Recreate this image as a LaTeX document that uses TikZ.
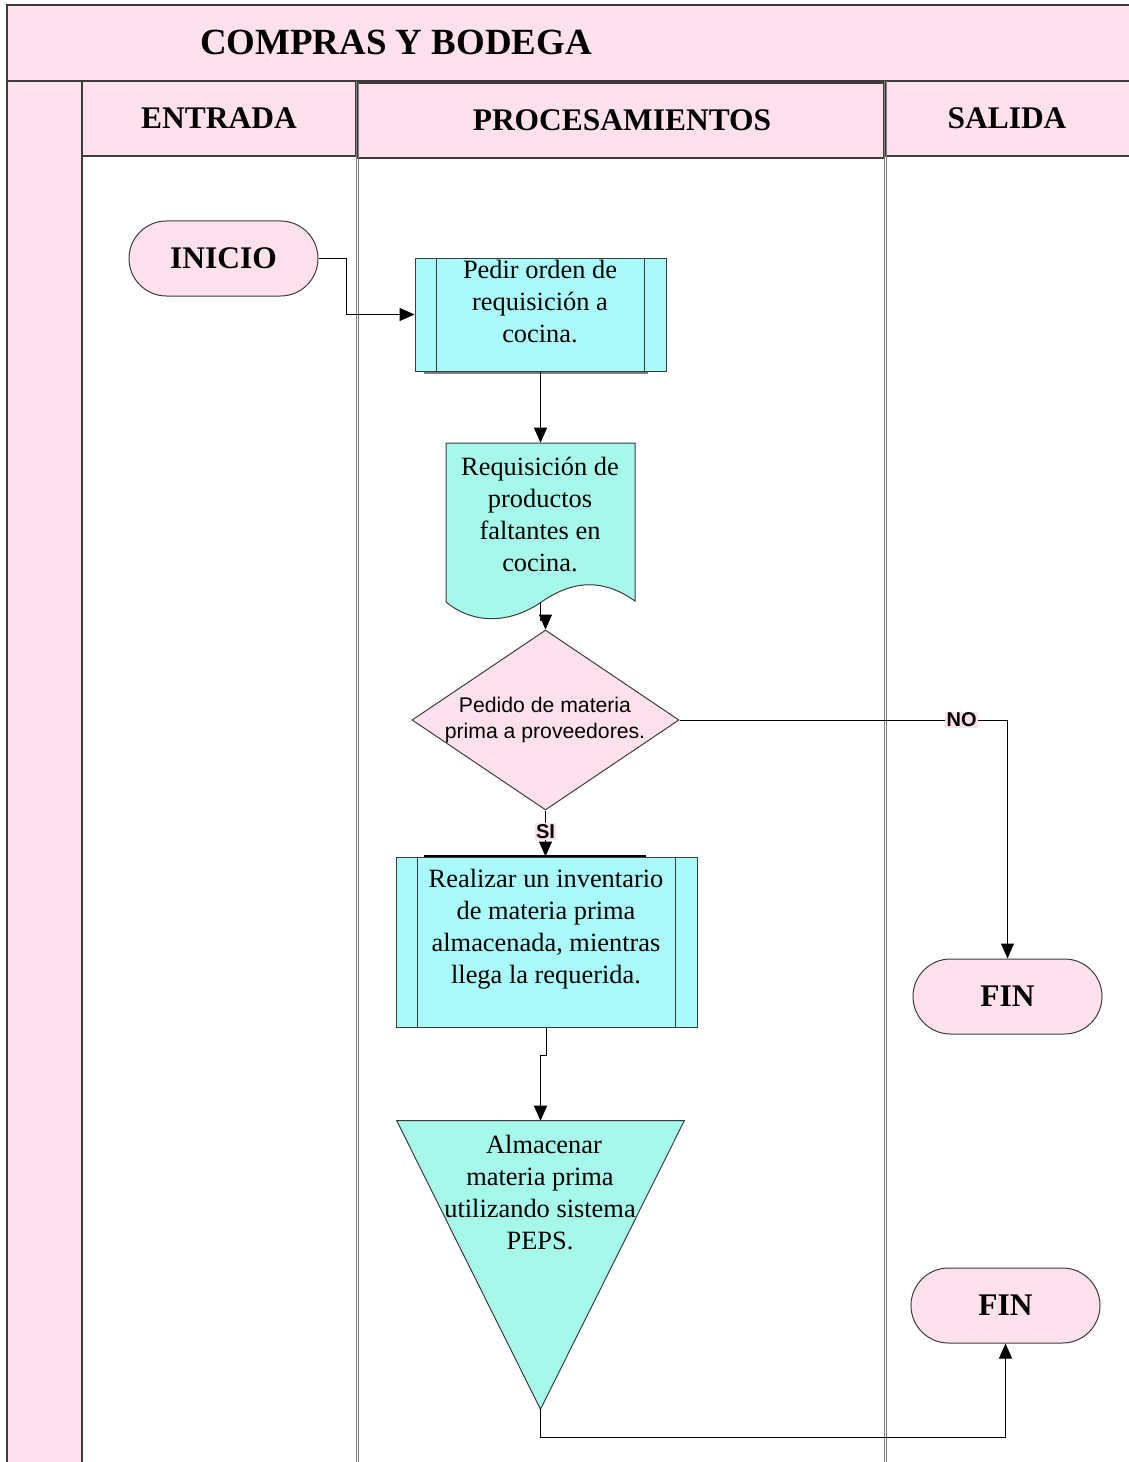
\documentclass[tikz,border=0pt]{standalone}
\usepackage{fontspec}
\setmainfont{Liberation Serif}
\newfontfamily\fcsansfam{Liberation Sans}
\usetikzlibrary{shapes.geometric,shapes.misc,arrows.meta,calc}

\definecolor{lanepink}{RGB}{255,224,237}
\definecolor{boxcyan}{RGB}{170,250,250}
\definecolor{docmint}{RGB}{165,248,234}
\definecolor{edgegray}{RGB}{60,60,60}
\definecolor{lanegray}{RGB}{125,125,125}

\newcommand\fctitle{\fontsize{27.7}{33}\selectfont\bfseries}
\newcommand\fchead{\fontsize{23.6}{28}\selectfont\bfseries}
\newcommand\fcbody{\fontsize{19.8}{24}\selectfont}
\newcommand\fcsans{\fcsansfam\fontsize{15.9}{19.5}\selectfont}
\newcommand\fclabel{\fcsansfam\fontsize{15}{16}\selectfont\bfseries}

\begin{document}
\begin{tikzpicture}[x=0.75pt,y=-0.75pt,
  shapeline/.style={draw=edgegray, line width=0.75pt},
  laneline/.style={draw=lanegray, line width=0.75pt},
  frameline/.style={draw=edgegray, line width=1pt},
  terminal/.style={rounded rectangle, shapeline, fill=lanepink,
    minimum width=141.75pt, minimum height=56.25pt, inner sep=0pt, font=\fchead},
  procbox/.style={rectangle, shapeline, fill=boxcyan, inner sep=0pt},
  boxtext/.style={align=center, font=\fcbody, inner sep=0pt},
  arr/.style={line width=0.75pt, draw=black, -{Triangle[length=11.25pt,width=9.75pt]}},
  branch/.style={fill=lanepink, inner sep=1pt, font=\fclabel}
]
\useasboundingbox (0,0) rectangle (1128,1462);

% ---- title band and left strip ----
\fill[lanepink] (7,5) rectangle (1132,81);
\fill[lanepink] (7,81) rectangle (82,1466);
\draw[frameline] (1132,5) -- (7,5) -- (7,1466);
\draw[frameline] (7,81) -- (1132,81);
\draw[frameline] (82,81) -- (82,1466);
\node[font=\fctitle] (title) at (396,42) {COMPRAS Y BODEGA};

% ---- lane headers ----
\draw[frameline, fill=lanepink] (82,81) rectangle (356,156);
\draw[frameline, fill=lanepink] (358,83) rectangle (884,158);
\draw[frameline, fill=lanepink] (886,81) rectangle (1132,156);
\node[font=\fchead] (h-entrada) at (219,118) {ENTRADA};
\node[font=\fchead] (h-proc) at (622,120) {PROCESAMIENTOS};
\node[font=\fchead] (h-salida) at (1007,118) {SALIDA};

% ---- lane separators (double rules) ----
\draw[laneline] (356,81) -- (356,1466);
\draw[laneline] (358,83) -- (358,1466);
\draw[laneline] (884,81) -- (884,1466);
\draw[laneline] (886,81) -- (886,1466);

% ---- terminals ----
\node[terminal] (inicio) at (223.5,258.5) {INICIO};
\node[terminal] (fin1) at (1007.5,996.5) {FIN};
\node[terminal] (fin2) at (1005.5,1305.5) {FIN};

% ---- predefined process: pedir orden ----
\draw[lanegray, line width=2pt] (424,373) -- (648,373);
\node[procbox, minimum width=188.25pt, minimum height=84.75pt] (pedir) at (540.5,314.5) {};
\draw[shapeline] ($(pedir.north west)+(22,0)$) -- ($(pedir.south west)+(22,0)$);
\draw[shapeline] ($(pedir.north east)+(-22,0)$) -- ($(pedir.south east)+(-22,0)$);
\node[boxtext] (pedir-t) at (540,302) {Pedir orden de\\requisición a\\cocina.};

% ---- document: requisicion ----
\node[rectangle, inner sep=0pt, minimum width=141.75pt, minimum height=130.5pt] (req) at (540.5,530) {};
\draw[shapeline, fill=docmint] (446,443) -- (635,443) -- (635,601)
  .. controls (605,580) and (575,578) .. (540,603)
  .. controls (505,626) and (470,622) .. (446,602) -- cycle;
\coordinate (req-bot) at (540,603);
\node[boxtext] (req-t) at (540,515) {Requisición de\\productos\\faltantes en\\cocina.};

% ---- decision ----
\node[diamond, shapeline, fill=lanepink, inner sep=0pt, aspect=1.48,
  minimum width=200.25pt, minimum height=135pt] (pedido) at (545.5,720) {};
\node[align=center, font=\fcsans, inner sep=0pt] (pedido-t) at (545,720) {Pedido de materia\\prima a proveedores.};

% ---- predefined process: inventario ----
\node[procbox, minimum width=225.75pt, minimum height=127.5pt] (inv) at (546.5,942) {};
\draw[shapeline] ($(inv.north west)+(22,0)$) -- ($(inv.south west)+(22,0)$);
\draw[shapeline] ($(inv.north east)+(-22,0)$) -- ($(inv.south east)+(-22,0)$);
\draw[black, line width=1.5pt] (424,856) -- (646,856);
\node[boxtext] (inv-t) at (546,929) {Realizar un inventario\\de materia prima\\almacenada, mientras\\llega la requerida.};

% ---- storage (inverted triangle) ----
\node[rectangle, inner sep=0pt, minimum width=215.25pt, minimum height=216pt] (alm) at (540.5,1265) {};
\draw[shapeline, fill=docmint] (alm.north west) -- (alm.north east) -- (alm.south) -- cycle;
\node[boxtext] (alm-t) at (540,1193) {\hspace*{6pt}Almacenar\\materia prima\\utilizando sistema\\PEPS.};

% ---- connectors ----
\draw[arr] (inicio.east) -- ++(28,0) |- (pedir.west);
\draw[arr] (pedir.south) -- (req.north);
\draw[arr] (req-bot) -- ++(0,17) -| (pedido.north);
\draw[arr] (pedido.south) -- (pedido.south |- inv.north)
  node[branch, pos=0.45] (si) {SI};
\draw[arr] (pedido.east) -| (fin1.north)
  node[branch, pos=0.43] (no) {NO};
\draw[arr] (inv.south) -- ++(0,28) -| (alm.north);
\draw[arr] (alm.south) -- ++(0,28) -| (fin2.south);
\end{tikzpicture}
\end{document}
